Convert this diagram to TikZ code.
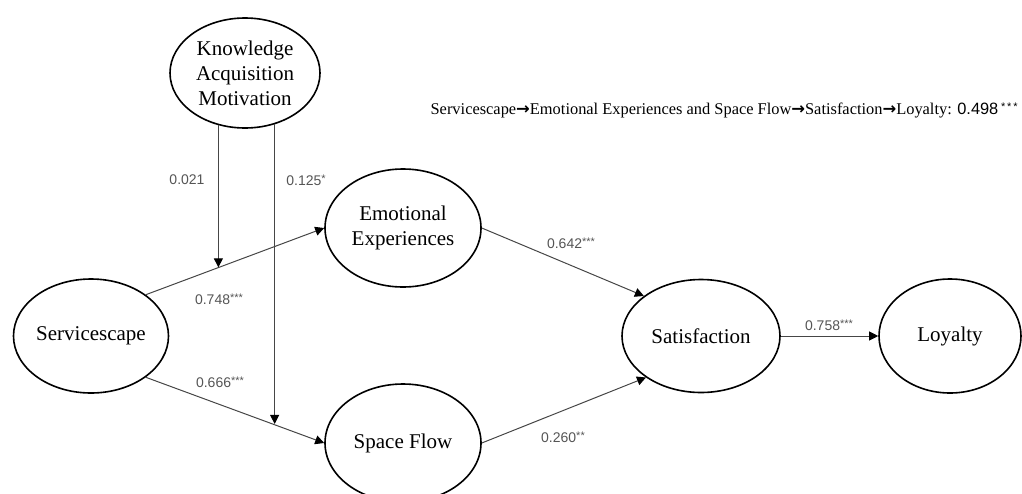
\documentclass[tikz,border=0pt]{standalone}
\usepackage{fontspec}
\setmainfont{Liberation Serif}
\setsansfont{Liberation Sans}
\newfontfamily\arrowfont{DejaVu Sans}
\usepackage{tikz}
\usetikzlibrary{shapes,arrows,positioning,calc,arrows.meta}
\usepackage{xcolor}
\definecolor{pathgray}{RGB}{70,70,70}
\definecolor{coefgray}{RGB}{85,85,85}
\newcommand{\sig}[1]{\raisebox{0.45ex}{\fontsize{5.5}{6}\selectfont #1}}
\newcommand{\thru}{{\arrowfont\bfseries →}}

\begin{document}
\begin{tikzpicture}[x=0.5pt,y=-0.5pt,
    every node/.style={font=\fontsize{10.5}{12.5}\selectfont},
    construct/.style={ellipse,draw,line width=0.8pt,inner sep=0pt,align=center,
                      minimum width=78pt,minimum height=58pt},
    coef/.style={font=\sffamily\fontsize{7}{8}\selectfont,text=coefgray},
    link/.style={pathgray,line width=0.5pt,
                 -{Triangle[length=4.5pt,width=4.5pt,color=black]}}]
    \useasboundingbox (0,0) rectangle (1022,493);
    % constructs
    \node[construct,minimum width=75pt,minimum height=55pt] (kam) at (245,73) {Knowledge\\Acquisition\\Motivation};
    \node[construct,minimum width=77.5pt,minimum height=57pt] (serv) at (91,336) {Servicescape};
    \node[construct,minimum height=59pt] (emo) at (403,228) {Emotional\\Experiences};
    \node[construct,minimum height=59pt] (sf) at (403,443) {Space Flow};
    \node[construct,minimum width=79pt,minimum height=56.5pt] (sat) at (701,336) {Satisfaction};
    \node[construct,minimum width=71pt,minimum height=57pt] (loy) at (950,336) {Loyalty};
    % paths
    \draw[link] (serv.37) -- coordinate[pos=0.41] (m1) (emo.west);
    \draw[link] (serv.-37) -- coordinate[pos=0.71] (m2) (sf.west);
    \draw[link] (emo.east) -- (sat.145);
    \draw[link] (sf.east) -- (sat.-143);
    \draw[link] (sat.east) -- (loy.west);
    % moderation
    \draw[link] (kam.243) -- (kam.243 |- m1);
    \draw[link] (kam.-60) -- (kam.-60 |- m2);
    % coefficients
    \foreach \x/\y/\val [count=\i] in {%
       187/180/{0.021},
       306/180/{0.125\sig{*}},
       219/299/{0.748\sig{***}},
       220/382/{0.666\sig{***}},
       571/243/{0.642\sig{***}},
       563/437/{0.260\sig{**}},
       829/325/{0.758\sig{***}}}{%
       \node[coef] (coef\i) at (\x,\y) {\val};
    }
    \node[anchor=east,inner xsep=0pt,font=\fontsize{8.2}{9}\selectfont] (indirect) at (1018,110)
       {Servicescape\thru Emotional Experiences and Space Flow\thru Satisfaction\thru Loyalty: {\sffamily 0.498\,\sig{*\,*\,*}}};
\end{tikzpicture}
\end{document}
